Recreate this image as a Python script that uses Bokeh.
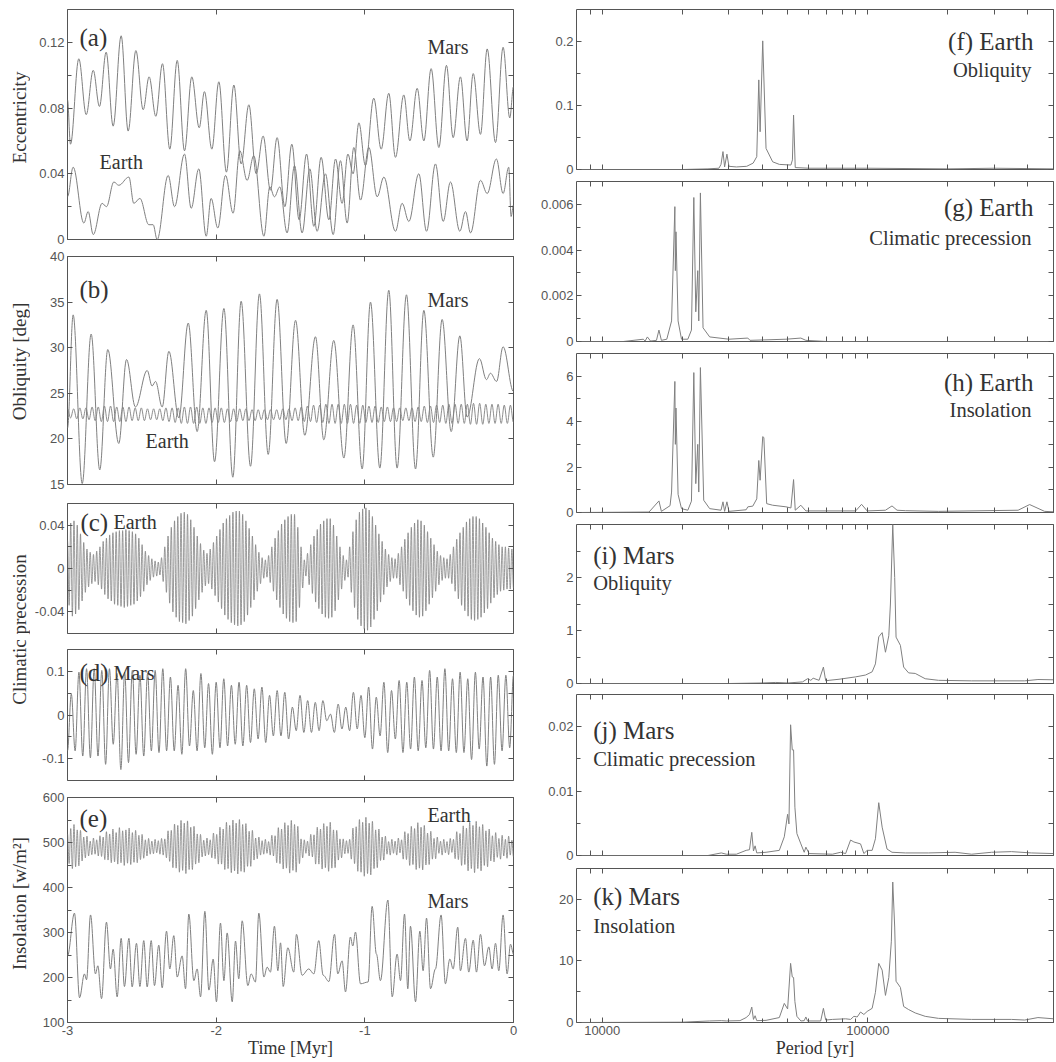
import numpy as np
from bokeh.plotting import figure
from bokeh.layouts import row, column
from bokeh.models import Range1d, LinearAxis, LogAxis, FixedTicker, PrintfTickFormatter, Label
from bokeh.embed import file_html
from bokeh.resources import INLINE

# ---------------- data ----------------
# (a) eccentricity, extrema (time in Myr)
mars_ecc_t = [-3.000,-2.980,-2.924,-2.874,-2.827,-2.785,-2.740,-2.693,-2.639,-2.592,
              -2.540,-2.491,-2.451,-2.406,-2.361,-2.312,-2.262,-2.213,-2.164,-2.114,
              -2.079,-2.029,-1.982,-1.931,-1.881,-1.832,-1.780,-1.731,-1.684,-1.635,
              -1.590,-1.538,-1.491,-1.442,-1.392,-1.343,-1.294,-1.242,-1.197,-1.153,
              -1.114,-1.079,-1.040,-0.996,-0.940,-0.890,-0.839,-0.794,-0.738,-0.697,
              -0.648,-0.603,-0.554,-0.502,-0.451,-0.406,-0.357,-0.312,-0.271,-0.222,
              -0.177,-0.121,-0.070,-0.025,0.000]
mars_ecc = [.085,.058,.110,.076,.103,.081,.114,.069,.124,.066,
            .115,.079,.099,.075,.107,.055,.109,.054,.099,.068,
            .090,.055,.096,.041,.094,.046,.082,.040,.063,.030,
            .062,.020,.058,.012,.052,.008,.050,.012,.049,.022,
            .052,.040,.071,.045,.086,.055,.089,.050,.088,.060,
            .092,.060,.104,.056,.106,.062,.099,.060,.101,.064,
            .116,.059,.117,.074,.093]
earth_ecc_t = [-3.000,-2.962,-2.890,-2.861,-2.827,-2.767,-2.738,-2.688,-2.655,-2.587,
               -2.554,-2.513,-2.453,-2.424,-2.397,-2.323,-2.280,-2.213,-2.168,-2.117,
               -2.067,-2.034,-1.989,-1.937,-1.886,-1.841,-1.792,-1.747,-1.679,-1.639,
               -1.608,-1.572,-1.523,-1.473,-1.422,-1.370,-1.321,-1.265,-1.213,-1.164,
               -1.119,-1.074,-1.029,-0.973,-0.917,-0.872,-0.794,-0.749,-0.704,-0.637,
               -0.585,-0.525,-0.473,-0.424,-0.361,-0.323,-0.289,-0.222,-0.177,-0.115,
               -0.070,-0.032,-0.016,0.000]
earth_ecc = [.026,.044,.010,.017,.003,.022,.020,.035,.033,.038,
             .022,.025,.009,.009,.000,.039,.020,.052,.019,.043,
             .002,.025,.007,.039,.016,.054,.036,.051,.002,.032,
             .026,.032,.004,.045,.004,.043,.005,.040,.003,.048,
             .010,.056,.024,.056,.026,.038,.005,.022,.011,.040,
             .005,.046,.011,.035,.005,.017,.004,.036,.028,.049,
             .028,.044,.014,.021]

# (b) obliquity [deg]
mars_obl_t = [-3.000,-2.962,-2.901,-2.841,-2.783,-2.729,-2.655,-2.603,-2.543,-2.464,
              -2.431,-2.408,-2.363,-2.318,-2.251,-2.188,-2.128,-2.067,-2.011,-1.948,
              -1.888,-1.832,-1.769,-1.709,-1.650,-1.590,-1.529,-1.466,-1.404,-1.332,
              -1.276,-1.209,-1.141,-1.079,-1.018,-0.962,-0.899,-0.839,-0.783,-0.720,
              -0.659,-0.603,-0.540,-0.480,-0.419,-0.361,-0.312,-0.229,-0.182,-0.155,
              -0.114,-0.070,0.000]
mars_obl = [21.2,33.6,15.1,31.5,16.6,29.8,19.5,28.7,23.5,27.5,
            25.8,26.3,23.5,29.6,22.3,32.7,20.8,34.1,17.5,34.3,
            15.8,35.1,17.0,35.9,18.3,35.3,19.5,33.0,20.4,31.2,
            19.9,30.8,17.9,32.5,16.7,35.0,16.8,36.3,16.8,35.8,
            16.7,34.1,18.0,33.1,20.8,31.3,22.4,28.8,26.5,27.2,
            26.3,30.1,25.2]
# successive maxima / minima of Earth's obliquity, -3 Myr -> 0
earth_obl = [23.3,22.3, 23.3,22.2, 23.4,22.2, 23.4,22.1, 23.5,22.0, 23.5,21.9, 23.6,21.9, 23.6,21.9, 23.5,21.9, 23.5,21.9,
             23.5,22.0, 23.4,22.0, 23.4,22.0, 23.3,22.1, 23.3,22.1, 23.3,22.0, 23.4,21.9, 23.4,21.8, 23.4,21.7, 23.5,21.7,
             23.5,21.7, 23.5,21.7, 23.4,21.7, 23.4,21.8, 23.4,21.8, 23.4,21.8, 23.3,21.9, 23.3,21.9, 23.3,22.0, 23.3,22.0,
             23.2,22.0, 23.2,22.1, 23.2,22.1, 23.2,22.1, 23.2,22.1, 23.3,22.1, 23.3,22.0, 23.4,22.0, 23.5,21.9, 23.6,21.9,
             23.7,21.8, 23.7,21.8, 23.8,21.7, 23.8,21.7, 23.8,21.7, 23.8,21.7, 23.8,21.7, 23.7,21.7, 23.7,21.8, 23.6,21.8,
             23.6,21.8, 23.5,21.9, 23.5,21.9, 23.4,21.9, 23.4,22.0, 23.4,22.0, 23.4,21.9, 23.5,21.9, 23.6,21.8, 23.6,21.8,
             23.7,21.8, 23.7,21.7, 23.8,21.7, 23.8,21.7, 23.8,21.7, 23.8,21.6, 23.9,21.6, 23.9,21.6, 23.8,21.7, 23.8,21.7,
             23.8,21.7, 23.7,21.7, 23.7,21.8]

# (c) Earth climatic precession, successive extrema in units of 0.001
earth_prec_milli = [26,-34, 42,-44, 44,-42, 40,-38, 32,-30, 24,-22, 18,-17, 15,-14, 13,-12, 16,-15,
                    20,-19, 25,-24, 28,-28, 31,-30, 33,-33, 34,-34, 35,-35, 35,-36, 36,-35, 35,-34,
                    34,-33, 32,-30, 28,-26, 22,-21, 16,-15, 12,-11, 9,-8, 7,-7, 6,-6, 10,-12,
                    20,-22, 30,-32, 38,-40, 44,-45, 48,-49, 51,-50, 52,-51, 50,-48, 45,-44, 38,-37,
                    30,-29, 23,-22, 17,-16, 14,-14, 18,-19, 24,-25, 30,-31, 36,-37, 42,-43, 46,-47,
                    49,-50, 52,-52, 53,-53, 53,-52, 50,-49, 44,-43, 37,-36, 30,-29, 22,-21, 15,-14,
                    10,-9, 8,-8, 12,-13, 20,-21, 28,-29, 35,-36, 41,-42, 45,-46, 48,-49, 50,-50,
                    50,-49, 38,-36, 20,-18, 8,-7, 14,-15, 22,-23, 30,-31, 36,-37, 41,-42, 44,-45,
                    46,-46, 46,-45, 40,-39, 30,-29, 20,-19, 12,-11, 8,-8, 20,-22, 34,-36, 45,-47,
                    52,-53, 55,-56, 56,-57, 54,-54, 48,-47, 40,-39, 32,-31, 25,-24, 18,-17, 13,-12,
                    10,-9, 9,-9, 14,-15, 20,-21, 27,-28, 33,-34, 38,-39, 42,-43, 45,-45, 44,-44,
                    40,-39, 34,-33, 28,-27, 22,-21, 16,-15, 12,-11, 10,-9, 9,-9, 13,-14, 20,-21,
                    27,-28, 33,-34, 38,-39, 43,-44, 46,-47, 48,-48, 48,-47, 46,-45, 42,-41, 38,-37,
                    33,-32, 28,-27, 25,-24, 22,-21, 20,-20, 20,-19, 19,-19, 18,-18]

# (d) Mars climatic precession, successive extrema
mars_prec = [-.082,.048, -.082,.098, -.094,.106, -.098,.106, -.094,.102, -.113,.106, -.067,.095, -.125,.098, -.109,.102, -.090,.091,
             -.094,.095, -.082,.102, -.086,.106, -.082,.087, -.082,.068, -.090,.106, -.071,.056, -.082,.095, -.075,.072, -.090,.075,
             -.075,.083, -.071,.068, -.067,.075, -.071,.068, -.063,.060, -.055,.064, -.063,.045, -.048,.056, -.048,.052, -.055,.018,
             -.036,.045, -.040,.033, -.040,.029, -.036,.033, -.013,.002, -.040,.025, -.032,.018, -.036,.052, -.032,.045, -.052,.064,
             -.078,.041, -.048,.075, -.086,.056, -.055,.079, -.086,.075, -.078,.087, -.082,.079, -.075,.102, -.078,.087, -.082,.106,
             -.082,.083, -.086,.098, -.086,.083, -.102,.098, -.078,.087, -.117,.087, -.113,.091, -.082,.091, -.075,.091]

# (e) insolation [W/m2]; Earth: successive extrema
earth_ins = [519,453, 531,442, 540,446, 528,448, 527,459, 512,466, 514,470, 503,473, 510,474, 506,470,
             515,469, 512,462, 524,461, 519,455, 530,457, 522,452, 533,455, 526,449, 528,454, 532,451,
             522,456, 527,455, 516,462, 518,465, 506,470, 509,474, 503,475, 507,477, 504,474, 509,472,
             508,466, 526,458, 527,444, 541,443, 538,434, 549,438, 543,431, 548,440, 534,440, 536,452,
             519,455, 518,468, 505,470, 510,473, 506,466, 521,464, 518,452, 534,452, 530,440, 545,442,
             538,433, 550,437, 543,430, 551,436, 540,434, 542,447, 525,447, 527,461, 510,464, 512,472,
             504,474, 507,476, 502,472, 516,470, 515,455, 533,453, 530,441, 544,443, 538,432, 549,438,
             540,434, 536,453, 508,466, 506,476, 503,470, 518,468, 517,452, 534,452, 530,441, 542,444,
             536,436, 545,443, 528,444, 527,461, 508,466, 508,475, 504,476, 507,463, 532,453, 535,436,
             551,434, 545,425, 556,431, 543,428, 547,442, 528,444, 530,460, 512,461, 514,474, 502,472,
             507,476, 503,472, 510,477, 506,463, 524,462, 520,449, 536,451, 531,440, 544,443, 534,439,
             538,450, 521,451, 525,463, 509,464, 512,476, 503,472, 507,477, 502,473, 509,478, 507,464,
             524,462, 520,449, 537,451, 532,437, 545,442, 538,433, 547,442, 535,437, 540,449, 526,446,
             530,459, 515,457, 522,467, 509,463, 516,470, 507,465, 514,472, 505,468]
mars_ins_t = [-3.000,-2.953,-2.919,-2.886,-2.872,-2.845,-2.812,-2.796,-2.771,-2.738,
              -2.711,-2.693,-2.666,-2.639,-2.617,-2.587,-2.565,-2.536,-2.513,-2.487,
              -2.464,-2.437,-2.415,-2.386,-2.363,-2.334,-2.312,-2.285,-2.262,-2.229,
              -2.206,-2.184,-2.150,-2.128,-2.105,-2.076,-2.049,-2.020,-1.998,-1.971,
              -1.948,-1.926,-1.892,-1.870,-1.848,-1.825,-1.787,-1.765,-1.736,-1.713,
              -1.679,-1.657,-1.635,-1.608,-1.585,-1.567,-1.549,-1.518,-1.478,-1.460,
              -1.422,-1.377,-1.343,-1.310,-1.280,-1.242,-1.204,-1.182,-1.153,-1.130,
              -1.097,-1.081,-1.063,-1.029,-0.978,-0.951,-0.922,-0.895,-0.845,-0.816,
              -0.783,-0.760,-0.733,-0.711,-0.693,-0.659,-0.630,-0.608,-0.585,-0.558,
              -0.525,-0.487,-0.458,-0.428,-0.406,-0.375,-0.357,-0.323,-0.301,-0.271,
              -0.249,-0.222,-0.195,-0.166,-0.144,-0.121,-0.099,-0.070,-0.043,-0.020,
              0.000]
mars_ins = [248,343,155,208,195,339,208,226,153,323,
            219,263,157,287,180,287,179,276,180,282,
            179,282,182,272,177,303,219,293,201,248,
            175,341,193,219,157,347,172,241,146,321,
            193,299,146,281,197,326,182,208,190,343,
            201,223,212,314,215,277,180,266,212,296,
            205,219,208,282,205,191,296,208,237,168,
            290,270,301,186,190,358,252,193,372,157,
            252,193,341,175,314,146,303,215,332,175,
            219,339,186,241,219,312,215,287,212,283,
            212,296,226,268,219,276,215,339,208,274,
            252]

# (f)-(k) spectra: period [yr], power
f_per = [8000,20000,25000,27500,28000,28480,28890,29470,30000,32000,35000,37000,38170,38850,39300,40200,
         41370,43820,46420,51330,52000,52520,53290,60000,100000,200000,300000,500000]
f_pow = [0,0,0.001,0.002,0.008,0.028,0.004,0.024,0.005,0.004,0.005,0.010,0.020,0.140,0.059,0.201,
         0.033,0.012,0.008,0.007,0.015,0.085,0.003,0.002,0.002,0.001,0.002,0.001]
g_per = [8000,12000,14280,14500,14790,15200,16000,16350,16700,17500,18240,18770,18850,18950,19300,19880,
         21000,21670,22120,22500,22890,23090,23420,23960,25380,30000,35330,36000,49160,55940,58420,70000,500000]
g_pow = [0,0,0.0001,0.00002,0.0002,0.00002,0.00005,0.0005,0.00005,0.0001,0.0009,0.0059,0.0031,0.0048,0.0009,0.0001,
         0.0001,0.0005,0.0063,0.0013,0.0031,0.0009,0.0065,0.0006,0.0002,0.0001,0.00015,0.00005,0.0001,0.00015,0.00005,0,0]
h_per = [8000,15000,16350,16700,18000,18240,18770,18850,18950,19300,19880,21000,21670,22120,22500,22890,23090,
         23420,24100,25380,28000,28480,28890,29470,30000,34820,35330,36880,38170,38850,39300,40200,40600,41600,
         43820,49160,51330,52520,53290,55940,58420,90000,94700,99400,116500,123300,128800,138400,184500,
         367800,406600,462800,500000]
h_pow = [0,0.02,0.51,0.05,0.3,0.9,5.77,3.0,4.6,0.8,0.17,0.1,0.5,6.16,1.27,3.0,0.9,
         6.38,0.54,0.17,0.1,0.47,0.05,0.47,0.05,0.12,0.25,0.28,0.6,2.29,1.42,3.34,3.3,0.39,
         0.32,0.25,0.2,1.45,0.1,0.32,0.07,0.07,0.36,0.07,0.1,0.29,0.1,0.08,0.05,
         0.1,0.35,0.05,0.03]
i_per = [8000,30000,40000,45000,50000,56760,59270,61000,62230,65530,68030,69410,71440,77880,89920,98000,
         103800,106800,109900,113200,116500,119900,121600,124100,126200,127700,132600,136400,142400,150800,
         164400,184500,245900,389500,436900,500000]
i_pow = [0,0,0.01,0.02,0.01,0.03,0.09,0.06,0.10,0.06,0.31,0.05,0.06,0.08,0.125,0.16,
         0.22,0.37,0.88,0.96,0.59,0.9,1.5,3.0,2.0,0.875,0.72,0.31,0.2,0.19,
         0.09,0.06,0.05,0.05,0.075,0.07]
j_per = [8000,25000,28070,29310,32000,34820,35840,36560,37100,37630,38170,41370,46420,48460,49880,50460,
         51190,51930,52530,53130,54060,55960,57600,58430,60120,73510,79010,82470,86100,88610,93870,96610,
         99430,103800,106800,109900,113200,118100,123300,138400,169300,213000,245900,292200,347200,412500,500000]
j_pow = [0,0,0.0004,0.0002,0.0002,0.0008,0.0009,0.0036,0.0007,0.0015,0.0004,0.0005,0.0008,0.0029,0.0064,0.0049,
         0.0203,0.0164,0.0164,0.0075,0.0034,0.0018,0.0005,0.0013,0.0003,0.0002,0.0005,0.0003,0.0024,0.0021,0.0018,0.0003,
         0.0008,0.0008,0.0026,0.0082,0.0044,0.0010,0.0005,0.0004,0.0004,0.0005,0.0002,0.0005,0.0006,0.0004,0.0003]
k_per = [8000,20000,25380,28070,29310,33000,34820,35840,36560,37100,37630,38170,41370,46420,48460,49880,
         51190,51930,52530,53130,54060,55960,57600,58430,59270,66450,68030,69410,73510,82470,86100,88610,
         91200,93870,96610,99430,103800,106800,109900,113200,116500,119900,122600,124100,126200,127700,
         132600,136400,142400,150800,164400,184500,245900,347200,389500,436900,500000]
k_pow = [0,0.05,0.25,0.3,0.25,0.3,0.8,1.3,2.5,0.5,1.1,0.3,0.35,0.8,3.1,2.2,
         9.6,7.4,7.3,3.4,1.0,0.25,0.3,0.9,0.25,0.25,2.3,0.4,0.5,0.6,0.5,1.0,
         0.9,1.7,1.3,1.8,2.3,4.9,9.6,8.5,4.4,7.3,13.2,22.8,15.5,6.7,
         5.7,2.6,2.1,1.55,1.0,0.67,0.5,0.5,0.4,0.8,0.6]

# y-axis titles of the left column
ytitles = ["Eccentricity", "Obliquity [deg]", "Climatic precession", "Insolation [w/m\u00b2]"]

# ---------------- styling ----------------
SERIF = "Liberation Serif"
SANS = "Liberation Sans"
LINE = "#808080"
TXT = "#333333"
TICKTXT = "#555555"
FRAME = "#555555"
TOTAL_H = 1060


def make_axis(cls, ticks, minor, labels):
    if labels:
        ax = cls(ticker=FixedTicker(ticks=ticks, minor_ticks=minor))
        ax.formatter = PrintfTickFormatter(format="%g")
        ax.major_label_text_font = SANS
        ax.major_label_text_font_size = "13px"
        ax.major_label_text_color = TICKTXT
        ax.major_label_standoff = 3
    else:
        # tick marks only: all ticks drawn as (unlabelled) minor ticks
        ax = cls(ticker=FixedTicker(ticks=[], minor_ticks=list(ticks) + list(minor)))
    ax.axis_line_color = None
    ax.major_tick_in = 5
    ax.major_tick_out = 0
    ax.minor_tick_in = 5 if not labels else 4
    ax.minor_tick_out = 0
    ax.major_tick_line_color = FRAME
    ax.minor_tick_line_color = FRAME
    return ax


def make_fig(w, h, bl, br, bt, bb, xr, yr, xt, xm, yt, ym, log=False, xlabels=False, xtitle=None):
    p = figure(width=w, height=h, x_range=Range1d(*xr), y_range=Range1d(*yr),
               x_axis_type="log" if log else "linear",
               x_axis_location=None, y_axis_location=None,
               output_backend="svg", toolbar_location=None,
               min_border_left=bl, min_border_right=br, min_border_top=bt, min_border_bottom=bb)
    p.grid.visible = False
    p.outline_line_color = FRAME
    p.outline_line_width = 1
    p.background_fill_color = "white"
    p.border_fill_color = "white"
    AX = LogAxis if log else LinearAxis
    below = make_axis(AX, xt, xm, xlabels)
    if xtitle:
        below.axis_label = xtitle
        below.axis_label_text_font = SERIF
        below.axis_label_text_font_style = "normal"
        below.axis_label_text_font_size = "18px"
        below.axis_label_text_color = TXT
        below.axis_label_standoff = 0
    p.add_layout(below, "below")
    p.add_layout(make_axis(AX, xt, xm, False), "above")
    p.add_layout(make_axis(LinearAxis, yt, ym, True), "left")
    p.add_layout(make_axis(LinearAxis, yt, ym, False), "right")
    return p


def put(p, text, fx, fy, size, align="left", log=False):
    xs, xe = p.x_range.start, p.x_range.end
    if log:
        x = 10 ** (np.log10(xs) + fx * (np.log10(xe) - np.log10(xs)))
    else:
        x = xs + fx * (xe - xs)
    y = p.y_range.end - fy * (p.y_range.end - p.y_range.start)
    p.add_layout(Label(x=x, y=y, text=text, text_font=SERIF, text_font_size=size,
                       text_color=TXT, text_align=align, text_baseline="middle"))


def smooth(p, t, v, width=1.0):
    t = np.asarray(t, float)
    v = np.asarray(v, float)
    d = np.diff(t) * 0.36
    p.bezier(x0=t[:-1], y0=v[:-1], x1=t[1:], y1=v[1:],
             cx0=t[:-1] + d, cy0=v[:-1], cx1=t[1:] - d, cy1=v[1:],
             line_color=LINE, line_width=width)


# ---------------- strip holding the left y-axis titles ----------------
SW = 30
strip = figure(width=SW, height=TOTAL_H, x_range=Range1d(0, SW), y_range=Range1d(TOTAL_H, 0),
               x_axis_location=None, y_axis_location=None, output_backend="svg",
               toolbar_location=None, min_border=0)
strip.grid.visible = False
strip.outline_line_color = None
strip.border_fill_color = "white"
for txt, yc in zip(ytitles, [117, 361, 629, 903]):
    strip.add_layout(Label(x=19, y=yc, text=txt, text_font=SERIF, text_font_size="19px",
                           text_color=TXT, text_align="center", text_baseline="middle",
                           angle=90, angle_units="deg"))

# ---------------- left column ----------------
LW, LBL, LBR = 523 - SW, 67 - SW, 10
TX = (-3, 0)
tx_major = [-3, -2, -1, 0]

pa = make_fig(LW, 247, LBL, LBR, 9, 8, TX, (0, 0.14), tx_major, [],
              [0, 0.04, 0.08, 0.12], [0.02, 0.06, 0.10])
smooth(pa, mars_ecc_t, mars_ecc)
smooth(pa, earth_ecc_t, earth_ecc)
put(pa, "(a)", 0.027, 0.122, "25px")
put(pa, "Mars", 0.807, 0.165, "20px")
put(pa, "Earth", 0.072, 0.665, "20px")

pb = make_fig(LW, 245, LBL, LBR, 9, 8, TX, (15, 40), tx_major, [],
              [15, 20, 25, 30, 35, 40], [])
smooth(pb, mars_obl_t, mars_obl)
smooth(pb, np.linspace(-3, 0, len(earth_obl)), earth_obl, 0.9)
put(pb, "(b)", 0.027, 0.145, "25px")
put(pb, "Mars", 0.807, 0.189, "20px")
put(pb, "Earth", 0.175, 0.811, "20px")

pc = make_fig(LW, 145, LBL, LBR, 11, 4, TX, (-0.06, 0.06), tx_major, [],
              [-0.04, 0, 0.04], [-0.02, 0.02])
smooth(pc, np.linspace(-3, 0, len(earth_prec_milli)), np.array(earth_prec_milli) / 1000.0, 0.8)
put(pc, "(c)", 0.029, 0.146, "25px")
put(pc, "Earth", 0.103, 0.146, "20px")

pd = make_fig(LW, 151, LBL, LBR, 12, 8, TX, (-0.15, 0.15), tx_major, [],
              [-0.1, 0, 0.1], [-0.05, 0.05])
smooth(pd, np.linspace(-3, 0, len(mars_prec)), mars_prec)
put(pd, "(d)", 0.027, 0.176, "25px")
put(pd, "Mars", 0.103, 0.176, "20px")

pe = make_fig(LW, 272, LBL, LBR, 9, 34, TX, (100, 600), tx_major, [],
              [100, 200, 300, 400, 500, 600], [150, 250, 350, 450, 550],
              xlabels=True, xtitle="Time [Myr]")
smooth(pe, np.linspace(-3, 0, len(earth_ins)), earth_ins, 0.8)
smooth(pe, mars_ins_t, mars_ins)
put(pe, "(e)", 0.027, 0.092, "25px")
put(pe, "Earth", 0.807, 0.079, "20px")
put(pe, "Mars", 0.807, 0.459, "20px")

# ---------------- right column ----------------
RW, RBL, RBR = 533, 53, 3
PX = (8000, 500000)
px_major = [10000, 100000]
px_minor = [9000, 20000, 30000, 40000, 50000, 60000, 70000, 80000, 90000,
            200000, 300000, 400000, 500000]


def spec(h, bt, bb, yr, yt, ym, per, pw, last=False):
    p = make_fig(RW, h, RBL, RBR, bt, bb, PX, yr, px_major, px_minor, yt, ym, log=True,
                 xlabels=last, xtitle="Period [yr]" if last else None)
    p.line(per, pw, line_color=LINE, line_width=1)
    return p


TS, SS = "25px", "20.5px"
pf = spec(177, 9, 8, (0, 0.25), [0, 0.1, 0.2], [0.05, 0.15], f_per, f_pow)
put(pf, "(f) Earth", 0.958, 0.20, TS, align="right", log=True)
put(pf, "Obliquity", 0.954, 0.375, SS, align="right", log=True)

pg = spec(172, 4, 8, (0, 0.007), [0, 0.002, 0.004, 0.006], [0.001, 0.003, 0.005], g_per, g_pow)
put(pg, "(g) Earth", 0.958, 0.163, TS, align="right", log=True)
put(pg, "Climatic precession", 0.954, 0.356, SS, align="right", log=True)

ph = spec(171, 4, 8, (0, 7), [0, 2, 4, 6], [1, 3, 5], h_per, h_pow)
put(ph, "(h) Earth", 0.958, 0.182, TS, align="right", log=True)
put(ph, "Insolation", 0.954, 0.358, SS, align="right", log=True)

pi_ = spec(171, 4, 8, (0, 3), [0, 1, 2], [0.5, 1.5, 2.5], i_per, i_pow)
put(pi_, "(i) Mars", 0.035, 0.195, TS, log=True)
put(pi_, "Obliquity", 0.035, 0.365, SS, log=True)

pj = spec(172, 3, 8, (0, 0.025), [0, 0.01, 0.02], [0.005, 0.015], j_per, j_pow)
put(pj, "(j) Mars", 0.035, 0.224, TS, log=True)
put(pj, "Climatic precession", 0.035, 0.398, SS, log=True)

pk = spec(197, 5, 34, (0, 25), [0, 10, 20], [5, 15], k_per, k_pow, last=True)
put(pk, "(k) Mars", 0.035, 0.182, TS, log=True)
put(pk, "Insolation", 0.035, 0.371, SS, log=True)

layout = row(strip,
             column(pa, pb, pc, pd, pe, spacing=0),
             column(pf, pg, ph, pi_, pj, pk, spacing=0), spacing=0)

open("out.html", "w").write(file_html(layout, INLINE))
